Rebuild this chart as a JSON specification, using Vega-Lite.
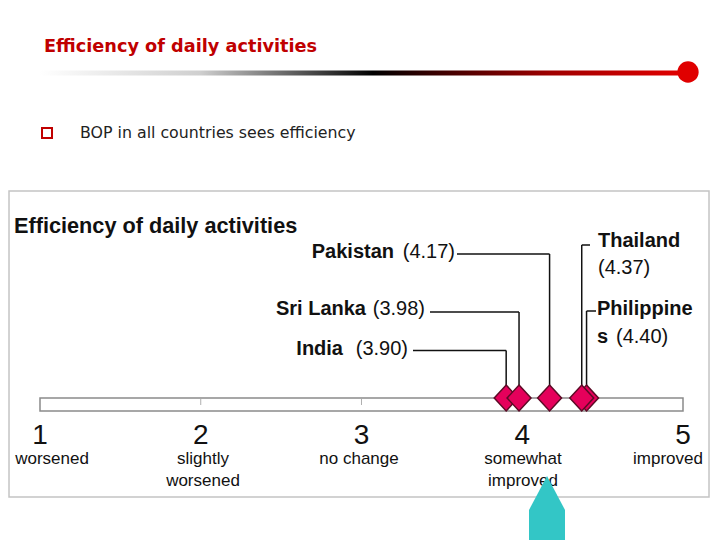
{
  "$schema": "https://vega.github.io/schema/vega-lite/v6.json",
  "width": 720,
  "height": 540,
  "autosize": {"type": "fit", "contains": "padding"},
  "padding": 0,
  "background": "white",
  "config": {"view": {"stroke": null}, "font": "Liberation Sans"},
  "datasets": {
    "countries": [
      {"country": "Philippines", "score": 4.40, "level": 8.7, "lineEnd": 4.4588},
      {"country": "India", "score": 3.90, "level": 4.75, "lineEnd": 3.3204},
      {"country": "Sri Lanka", "score": 3.98, "level": 8.6, "lineEnd": 3.4261},
      {"country": "Pakistan", "score": 4.17, "level": 14.4, "lineEnd": 3.5941},
      {"country": "Thailand", "score": 4.37, "level": 15.3, "lineEnd": 4.4215}
    ],
    "notes": [
      {"text": "(4.17)", "x": 3.5817, "y": 14.6, "bold": false, "anchor": "end"},
      {"text": "Pakistan", "x": 3.2022, "y": 14.6, "bold": true, "anchor": "end"},
      {"text": "(3.98)", "x": 3.3950, "y": 8.9, "bold": false, "anchor": "end"},
      {"text": "Sri Lanka", "x": 3.0280, "y": 8.9, "bold": true, "anchor": "end"},
      {"text": "(3.90)", "x": 3.2893, "y": 4.9, "bold": false, "anchor": "end"},
      {"text": "India", "x": 2.8849, "y": 4.9, "bold": true, "anchor": "end"},
      {"text": "Thailand", "x": 4.4712, "y": 15.7, "bold": true, "anchor": "start"},
      {"text": "(4.37)", "x": 4.4712, "y": 13.0, "bold": false, "anchor": "start"},
      {"text": "Philippine", "x": 4.4650, "y": 8.9, "bold": true, "anchor": "start"},
      {"text": "s", "x": 4.4650, "y": 6.1, "bold": true, "anchor": "start"},
      {"text": "(4.40)", "x": 4.5832, "y": 6.1, "bold": false, "anchor": "start"}
    ]
  },
  "layer": [
    {
      "data": {"values": [{"x": 0.8072, "x2": 5.1618, "y": 20.7, "y2": -9.9}]},
      "mark": {"type": "rect", "fill": "white", "stroke": "#c4c4c4", "strokeWidth": 1.5},
      "encoding": {
        "x": {"field": "x", "type": "quantitative", "scale": {"domain": [0.75117, 5.23017], "nice": false, "zero": false}, "axis": null},
        "x2": {"field": "x2"},
        "y": {"field": "y", "type": "quantitative", "scale": {"domain": [-14.2, 39.8], "nice": false, "zero": false}, "axis": null},
        "y2": {"field": "y2"}
      }
    },
    {
      "data": {"values": [{"x": 1.0, "x2": 4.9813, "y": 32.75, "y2": 32.25}]},
      "mark": {"type": "rect", "fill": {"gradient": "linear", "x1": 0, "y1": 0, "x2": 1, "y2": 0, "stops": [{"offset": 0, "color": "#ffffff"}, {"offset": 0.25, "color": "#cfcfcf"}, {"offset": 0.52, "color": "#000000"}, {"offset": 0.8, "color": "#a00000"}, {"offset": 1, "color": "#e00000"}]}, "stroke": null},
      "encoding": {
        "x": {"field": "x", "type": "quantitative", "axis": null},
        "x2": {"field": "x2"},
        "y": {"field": "y", "type": "quantitative", "axis": null},
        "y2": {"field": "y2"}
      }
    },
    {
      "data": {"values": [{"x": 5.0313, "y": 32.6}]},
      "mark": {"type": "point", "shape": "circle", "size": 452, "filled": true, "color": "#e00000", "opacity": 1},
      "encoding": {
        "x": {"field": "x", "type": "quantitative", "axis": null},
        "y": {"field": "y", "type": "quantitative", "axis": null}
      }
    },
    {
      "data": {"values": [{"x": 1.0249, "y": 35.1, "text": "Efficiency of daily activities"}]},
      "mark": {"type": "text", "font": "DejaVu Sans", "fontWeight": "bold", "fontSize": 17.7, "color": "#c00000", "align": "left", "baseline": "middle"},
      "encoding": {
        "x": {"field": "x", "type": "quantitative", "axis": null},
        "y": {"field": "y", "type": "quantitative", "axis": null},
        "text": {"field": "text"}
      }
    },
    {
      "data": {"values": [{"x": 1.0436, "y": 26.5}]},
      "mark": {"type": "point", "shape": "square", "size": 100, "filled": false, "stroke": "#c00000", "strokeWidth": 2, "opacity": 1},
      "encoding": {
        "x": {"field": "x", "type": "quantitative", "axis": null},
        "y": {"field": "y", "type": "quantitative", "axis": null}
      }
    },
    {
      "data": {"values": [{"x": 1.2488, "y": 26.5, "text": "BOP in all countries sees efficiency"}]},
      "mark": {"type": "text", "font": "DejaVu Sans", "fontSize": 15.8, "color": "#222222", "align": "left", "baseline": "middle"},
      "encoding": {
        "x": {"field": "x", "type": "quantitative", "axis": null},
        "y": {"field": "y", "type": "quantitative", "axis": null},
        "text": {"field": "text"}
      }
    },
    {
      "data": {"values": [{"x": 0.8383, "y": 17.2, "text": "Efficiency of daily activities"}]},
      "mark": {"type": "text", "fontWeight": "bold", "fontSize": 21.7, "color": "#111111", "align": "left", "baseline": "middle"},
      "encoding": {
        "x": {"field": "x", "type": "quantitative", "axis": null},
        "y": {"field": "y", "type": "quantitative", "axis": null},
        "text": {"field": "text"}
      }
    },
    {
      "data": {"values": [{"x": 1, "x2": 5, "y": 0, "y2": -1.3}]},
      "mark": {"type": "rect", "fill": "white", "stroke": "#8a8a8a", "strokeWidth": 1.5},
      "encoding": {
        "x": {"field": "x", "type": "quantitative", "axis": null},
        "x2": {"field": "x2"},
        "y": {"field": "y", "type": "quantitative", "axis": null},
        "y2": {"field": "y2"}
      }
    },
    {
      "data": {"values": [{"x": 2}, {"x": 3}, {"x": 4}]},
      "mark": {"type": "rule", "stroke": "#b0b0b0", "strokeWidth": 1},
      "encoding": {
        "x": {"field": "x", "type": "quantitative", "axis": null},
        "y": {"datum": -0.1, "type": "quantitative", "axis": null},
        "y2": {"datum": -0.7}
      }
    },
    {
      "data": {"values": [{"x": 1, "y": -3.8, "text": "1"}, {"x": 2, "y": -3.8, "text": "2"}, {"x": 3, "y": -3.8, "text": "3"}, {"x": 4, "y": -3.8, "text": "4"}, {"x": 5, "y": -3.8, "text": "5"}]},
      "mark": {"type": "text", "fontSize": 28, "color": "#111111", "align": "center", "baseline": "middle"},
      "encoding": {
        "x": {"field": "x", "type": "quantitative", "axis": null},
        "y": {"field": "y", "type": "quantitative", "axis": null},
        "text": {"field": "text"}
      }
    },
    {
      "data": {"values": [
        {"x": 1.0747, "y": -6.1, "text": "worsened"},
        {"x": 2.014, "y": -6.1, "text": "slightly"},
        {"x": 2.014, "y": -8.3, "text": "worsened"},
        {"x": 2.9845, "y": -6.1, "text": "no change"},
        {"x": 4.0047, "y": -6.1, "text": "somewhat"},
        {"x": 4.0047, "y": -8.3, "text": "improved"},
        {"x": 4.9067, "y": -6.1, "text": "improved"}
      ]},
      "mark": {"type": "text", "fontSize": 17, "color": "#111111", "align": "center", "baseline": "middle"},
      "encoding": {
        "x": {"field": "x", "type": "quantitative", "axis": null},
        "y": {"field": "y", "type": "quantitative", "axis": null},
        "text": {"field": "text"}
      }
    },
    {
      "data": {"name": "countries"},
      "mark": {"type": "rule", "stroke": "#111111", "strokeWidth": 1.5},
      "encoding": {
        "x": {"field": "score", "type": "quantitative", "axis": null},
        "y": {"field": "level", "type": "quantitative", "axis": null},
        "y2": {"datum": 0}
      }
    },
    {
      "data": {"name": "countries"},
      "mark": {"type": "rule", "stroke": "#111111", "strokeWidth": 1.5},
      "encoding": {
        "x": {"field": "score", "type": "quantitative", "axis": null},
        "x2": {"field": "lineEnd"},
        "y": {"field": "level", "type": "quantitative", "axis": null}
      }
    },
    {
      "data": {"name": "countries"},
      "mark": {"type": "point", "shape": "M0,-1L0.92,0L0,1L-0.92,0Z", "size": 676, "filled": true, "fill": "#e5005b", "stroke": "#5c0a25", "strokeWidth": 1.5, "opacity": 1},
      "encoding": {
        "x": {"field": "score", "type": "quantitative", "axis": null},
        "y": {"datum": 0, "type": "quantitative", "axis": null}
      }
    },
    {
      "data": {"name": "notes"},
      "transform": [{"filter": "datum.anchor === 'end' && datum.bold"}],
      "mark": {"type": "text", "fontWeight": "bold", "fontSize": 20, "color": "#111111", "align": "right", "baseline": "middle"},
      "encoding": {
        "x": {"field": "x", "type": "quantitative", "axis": null},
        "y": {"field": "y", "type": "quantitative", "axis": null},
        "text": {"field": "text"}
      }
    },
    {
      "data": {"name": "notes"},
      "transform": [{"filter": "datum.anchor === 'end' && !datum.bold"}],
      "mark": {"type": "text", "fontSize": 20, "color": "#111111", "align": "right", "baseline": "middle"},
      "encoding": {
        "x": {"field": "x", "type": "quantitative", "axis": null},
        "y": {"field": "y", "type": "quantitative", "axis": null},
        "text": {"field": "text"}
      }
    },
    {
      "data": {"name": "notes"},
      "transform": [{"filter": "datum.anchor === 'start' && datum.bold"}],
      "mark": {"type": "text", "fontWeight": "bold", "fontSize": 20, "color": "#111111", "align": "left", "baseline": "middle"},
      "encoding": {
        "x": {"field": "x", "type": "quantitative", "axis": null},
        "y": {"field": "y", "type": "quantitative", "axis": null},
        "text": {"field": "text"}
      }
    },
    {
      "data": {"name": "notes"},
      "transform": [{"filter": "datum.anchor === 'start' && !datum.bold"}],
      "mark": {"type": "text", "fontSize": 20, "color": "#111111", "align": "left", "baseline": "middle"},
      "encoding": {
        "x": {"field": "x", "type": "quantitative", "axis": null},
        "y": {"field": "y", "type": "quantitative", "axis": null},
        "text": {"field": "text"}
      }
    },
    {
      "data": {"values": [{"x": 4.154, "y": -11.0}]},
      "mark": {"type": "point", "shape": "M0,-1L0.5625,0.0625L0.5625,1L-0.5625,1L-0.5625,0.0625Z", "size": 4096, "filled": true, "fill": "#33c6c6", "stroke": null, "opacity": 1},
      "encoding": {
        "x": {"field": "x", "type": "quantitative", "axis": null},
        "y": {"field": "y", "type": "quantitative", "axis": null}
      }
    }
  ]
}
